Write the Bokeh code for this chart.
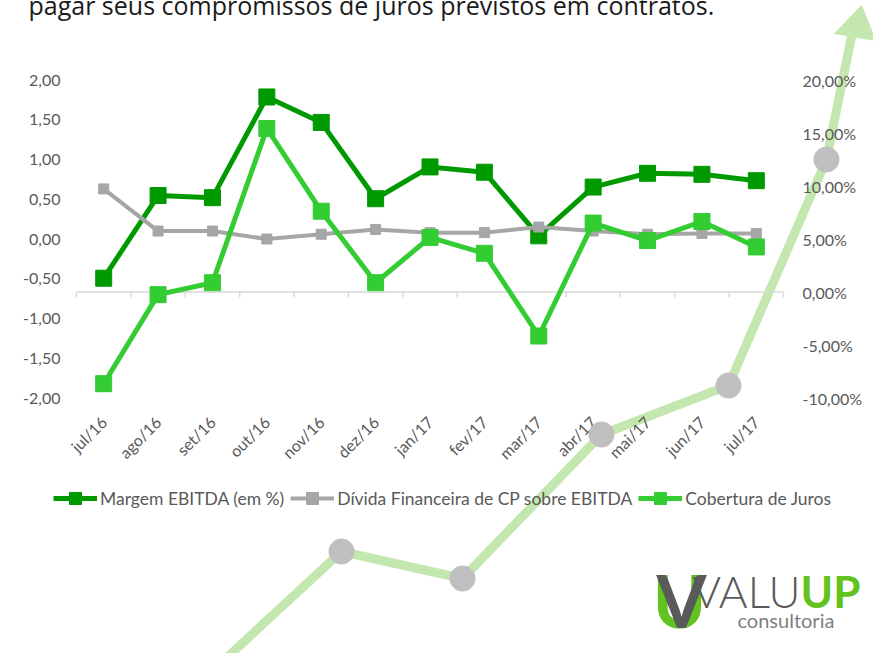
import numpy as np
from bokeh.plotting import figure
from bokeh.models import (Range1d, LinearAxis, FixedTicker, Legend, LegendItem,
                          Label, PolyAnnotation, CustomJSTickFormatter)
from bokeh.embed import file_html
from bokeh.resources import INLINE

# ---------------- data ----------------
categories = ["jul/16", "ago/16", "set/16", "out/16", "nov/16", "dez/16", "jan/17",
              "fev/17", "mar/17", "abr/17", "mai/17", "jun/17", "jul/17"]
margem_ebitda_pct = [1.3, 9.1, 8.9, 18.4, 16.0, 8.8, 11.8, 11.3, 5.3, 9.9, 11.2, 11.1, 10.5]
divida_cp_ebitda = [0.63, 0.10, 0.10, 0.00, 0.06, 0.12, 0.08, 0.08, 0.15, 0.10, 0.06, 0.07, 0.07]
cobertura_juros = [-1.82, -0.70, -0.55, 1.39, 0.35, -0.55, 0.02, -0.18, -1.22, 0.20, -0.02, 0.22, -0.10]
left_ticks = [-2.0, -1.5, -1.0, -0.5, 0.0, 0.5, 1.0, 1.5, 2.0]
right_ticks = [-10, -5, 0, 5, 10, 15, 20]
series_names = ["Margem EBITDA (em %)", "Dívida Financeira de CP sobre EBITDA", "Cobertura de Juros"]
title_text = "pagar seus compromissos de juros previstos em contratos."

# ---------------- styles / layout ----------------
DARK_GREEN = "#009900"
GREY = "#A6A6A6"
LIGHT_GREEN = "#33CC33"
LABEL_GREY = "#595959"
FONT = "Lato"

W, H = 873, 653
# chart area inside the canvas (pixels)
CL, CR, CT, CB = 76, 783, 79.5, 397.5
n = len(categories)
L_MIN, L_MAX = left_ticks[0], left_ticks[-1]
R_MIN, R_MAX = right_ticks[0], right_ticks[-1]

xpx = (CR - CL) / n
x_range = Range1d(-CL / xpx, n + (W - CR) / xpx)
lpx = (CB - CT) / (L_MAX - L_MIN)
y_range = Range1d(L_MIN - (H - CB) / lpx, L_MAX + CT / lpx)
rpx = (CB - CT) / (R_MAX - R_MIN)
pct_range = Range1d(R_MIN - (H - CB) / rpx, R_MAX + CT / rpx)


def sx(X):
    return X


def sy(Y):
    return H - Y


def base_y(Y, fs):
    # label anchor so that the text baseline lands on pixel row Y
    return sy(Y - 0.38 * fs)


xs = [i + 0.5 for i in range(n)]

p = figure(width=W, height=H, x_range=x_range, y_range=y_range,
           output_backend="svg", toolbar_location=None,
           min_border_left=0, min_border_right=0, min_border_top=0, min_border_bottom=0,
           x_axis_location=None, y_axis_location=None)
p.extra_y_ranges = {"pct": pct_range}
p.grid.visible = False
p.outline_line_color = None
p.background_fill_color = "white"
p.border_fill_color = "white"


def style_axis(ax, standoff):
    ax.axis_line_color = None
    ax.major_tick_line_color = None
    ax.minor_tick_line_color = None
    ax.major_tick_out = 0
    ax.major_tick_in = 0
    ax.minor_tick_out = 0
    ax.major_label_standoff = standoff
    ax.major_label_text_font = FONT
    ax.major_label_text_font_size = "16px"
    ax.major_label_text_color = LABEL_GREY


# left axis
ya = LinearAxis(ticker=FixedTicker(ticks=left_ticks),
                formatter=CustomJSTickFormatter(code="return tick.toFixed(2).replace('.', ',');"),
                fixed_location=0)
style_axis(ya, 16)
p.add_layout(ya, "left")

# right axis
ra = LinearAxis(y_range_name="pct", ticker=FixedTicker(ticks=right_ticks),
                formatter=CustomJSTickFormatter(code="return tick.toFixed(2).replace('.', ',') + '%';"),
                fixed_location=n)
style_axis(ra, 19)
p.add_layout(ra, "right")

# bottom category labels
xa = LinearAxis(ticker=FixedTicker(ticks=xs),
                formatter=CustomJSTickFormatter(args=dict(labels=categories),
                                                code="return labels[Math.floor(tick)];"),
                fixed_location=L_MIN)
style_axis(xa, 21)
xa.major_label_orientation = np.pi / 4
p.add_layout(xa, "below")

# ---------------- decorative background arrow ----------------
ARROW_COLOR = "#C4E7AF"
CIRCLE_COLOR = "#BFBFBF"
path_img = [(220, 663), (341, 551), (462, 578), (601, 434), (728, 385), (826, 159), (851, 36)]
px = [sx(a) for a, b in path_img]
py = [sy(b) for a, b in path_img]
p.add_layout(PolyAnnotation(xs=px + px[::-1], ys=py + py[::-1], xs_units="screen", ys_units="screen",
                            fill_alpha=0, line_color=ARROW_COLOR, line_alpha=1, line_width=9,
                            line_join="round", level="underlay"))
head_img = [(861, 5), (834, 33), (875, 40)]
p.add_layout(PolyAnnotation(xs=[sx(a) for a, b in head_img], ys=[sy(b) for a, b in head_img],
                            xs_units="screen", ys_units="screen", fill_color=ARROW_COLOR, fill_alpha=1,
                            line_color=ARROW_COLOR, line_alpha=1, line_width=1, level="underlay"))
theta = np.linspace(0, 2 * np.pi, 40, endpoint=False)
for (cx, cy) in path_img[1:6]:
    p.add_layout(PolyAnnotation(xs=list(sx(cx) + 12.5 * np.cos(theta)),
                                ys=list(sy(cy) + 12.5 * np.sin(theta)),
                                xs_units="screen", ys_units="screen", fill_color=CIRCLE_COLOR,
                                fill_alpha=1, line_color=CIRCLE_COLOR, line_alpha=1, line_width=1,
                                level="overlay"))

# category axis line crossing at 0% of the secondary axis, ticks at boundaries
bounds = list(range(n + 1))
p.line(x=[0, n], y=[0, 0], y_range_name="pct", line_color="#D9D9D9", line_width=1.5)
p.segment(x0=bounds, x1=bounds, y0=[0] * len(bounds), y1=[-0.5] * len(bounds),
          y_range_name="pct", line_color="#D9D9D9", line_width=1.5)

# series
l1 = p.line(xs, margem_ebitda_pct, y_range_name="pct", line_color=DARK_GREEN, line_width=5)
m1 = p.scatter(xs, margem_ebitda_pct, y_range_name="pct", marker="square", size=16,
               fill_color=DARK_GREEN, line_color=DARK_GREEN)
l2 = p.line(xs, divida_cp_ebitda, line_color=GREY, line_width=4)
m2 = p.scatter(xs, divida_cp_ebitda, marker="square", size=10, fill_color=GREY, line_color=GREY)
l3 = p.line(xs, cobertura_juros, line_color=LIGHT_GREEN, line_width=5)
m3 = p.scatter(xs, cobertura_juros, marker="square", size=16,
               fill_color=LIGHT_GREEN, line_color=LIGHT_GREEN)

legend = Legend(items=[LegendItem(label=series_names[0], renderers=[l1, m1]),
                       LegendItem(label=series_names[1], renderers=[l2, m2]),
                       LegendItem(label=series_names[2], renderers=[l3, m3])],
                orientation="horizontal", location=(53, sy(513)),
                label_text_font=FONT, label_text_font_size="17.5px", label_text_color=LABEL_GREY,
                glyph_width=44, glyph_height=30, label_standoff=3, spacing=6, padding=3,
                margin=0, border_line_color=None, background_fill_alpha=0)
p.add_layout(legend, "center")

# ---------------- title fragment ----------------
p.add_layout(Label(x=sx(28), y=base_y(14, 25), x_units="screen", y_units="screen", text=title_text,
                   text_font="Open Sans", text_font_size="25px", text_color="#1A1A1A",
                   text_baseline="alphabetic"))

# ---------------- logo ----------------
LOGO_GREEN = "#62C21E"
LOGO_GREY = "#5A5A5A"
p.add_layout(Label(x=sx(679), y=base_y(627, 72), x_units="screen", y_units="screen", text="U",
                   text_font=FONT, text_font_style="bold", text_font_size="72px",
                   text_color=LOGO_GREEN, text_align="center", text_baseline="alphabetic"))
p.add_layout(Label(x=sx(681), y=base_y(627, 72), x_units="screen", y_units="screen", text="V",
                   text_font=FONT, text_font_style="bold", text_font_size="72px",
                   text_color=LOGO_GREY, text_align="center", text_baseline="alphabetic"))
p.add_layout(Label(x=sx(800), y=base_y(607, 44), x_units="screen", y_units="screen", text="VALU",
                   text_font="'Lato Light', Lato", text_font_size="44px", text_color=LOGO_GREY,
                   text_align="right", text_baseline="alphabetic"))
p.add_layout(Label(x=sx(800), y=base_y(607, 44), x_units="screen", y_units="screen", text="UP",
                   text_font=FONT, text_font_style="bold", text_font_size="44px", text_color=LOGO_GREEN,
                   text_align="left", text_baseline="alphabetic"))
p.add_layout(Label(x=sx(737), y=base_y(627, 20), x_units="screen", y_units="screen", text="consultoria",
                   text_font=FONT, text_font_size="20px", text_color="#7F7F7F",
                   text_baseline="alphabetic"))

open("out.html", "w").write(file_html(p, INLINE))
